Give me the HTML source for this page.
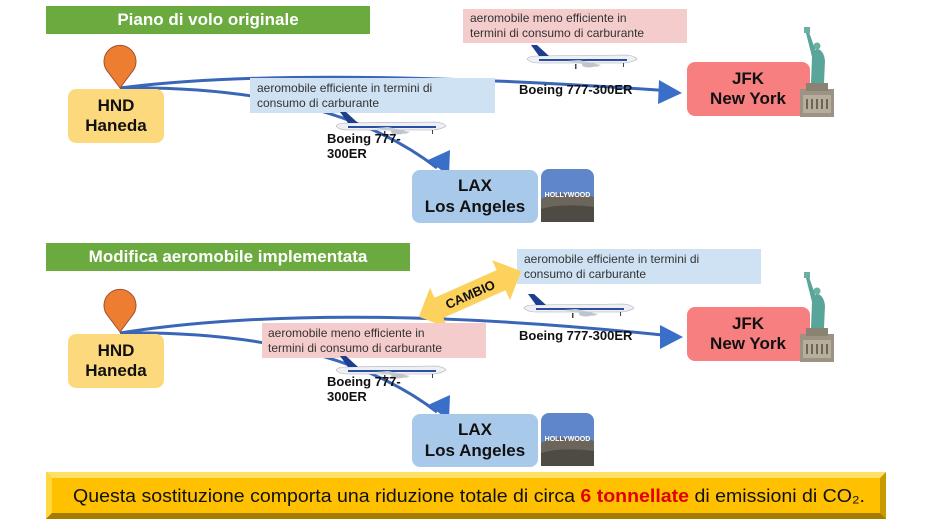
<!DOCTYPE html>
<html><head><meta charset="utf-8"><style>
html,body{margin:0;padding:0;background:#fff;width:930px;height:523px;overflow:hidden}
svg{display:block}
text{font-family:"Liberation Sans",sans-serif}
.b{font-weight:bold}
</style></head><body>
<svg width="930" height="523" viewBox="0 0 930 523" xmlns="http://www.w3.org/2000/svg">
<defs>
<g id="plane">
<path d="M0,14 Q2,11 10,11 L100,10 Q108,11 110,14 Q106,17 98,18 L12,18 Q3,18 0,14Z" fill="#eef0f3" stroke="#aab" stroke-width="0.6"/>
<path d="M4,0 L10,0 L22,11 L12,11Z" fill="#1d3f8f"/>
<rect x="12" y="14" width="88" height="2" fill="#2a4fa0"/>
<path d="M40,16 L70,22 L74,20 L52,15Z" fill="#c8ccd4"/>
<ellipse cx="62" cy="20" rx="7" ry="2.5" fill="#bfc4cc"/>
<rect x="48" y="19" width="1.5" height="5" fill="#444"/><rect x="96" y="18" width="1" height="4" fill="#444"/>
</g>
<g id="liberty">
<rect x="0" y="62" width="34" height="28" fill="#9c9384"/>
<rect x="3" y="68" width="28" height="18" fill="#b8ae9c"/>
<g fill="#6d6558"><rect x="6" y="72" width="2" height="10"/><rect x="11" y="72" width="2" height="10"/><rect x="16" y="72" width="2" height="10"/><rect x="21" y="72" width="2" height="10"/><rect x="26" y="72" width="2" height="10"/></g>
<rect x="6" y="56" width="22" height="8" fill="#8a8374"/>
<path d="M11,56 L12,30 Q14,22 18,22 Q24,24 25,34 L24,56Z" fill="#5aa59a"/>
<path d="M12,30 L6,6 L9,5 L16,25Z" fill="#5aa59a"/>
<rect x="4" y="0" width="6" height="6" fill="#6bb0a2"/>
<circle cx="17" cy="19" r="3.5" fill="#6bb0a2"/>
</g>
<g id="holly">
<rect x="0" y="0" width="53" height="53" rx="8" fill="#5f86c9"/>
<path d="M0,30 Q15,22 30,26 Q42,24 53,28 L53,45 Q53,53 45,53 L8,53 Q0,53 0,45Z" fill="#6b655c"/>
<path d="M0,40 Q20,34 53,38 L53,53 L0,53Z" fill="#4e4a44"/>
<text x="26.5" y="28" text-anchor="middle" font-size="7" font-weight="bold" fill="#fff">HOLLYWOOD</text>
</g>
<g id="pin"><path d="M0,36 L-12,20 A16,16 0 1 1 12,20 Z" fill="#ed7d31" stroke="#a0522d" stroke-width="1"/></g>
</defs>

<!-- SECTION 1 -->
<rect x="46" y="6" width="324" height="28" fill="#6aaa3e"/>
<text x="208" y="25" text-anchor="middle" class="b" font-size="17" fill="#fff">Piano di volo originale</text>

<rect x="463" y="9" width="224" height="34" fill="#f4cccc"/>
<text x="470" y="22" font-size="12" fill="#333">aeromobile meno efficiente in</text>
<text x="470" y="37" font-size="12" fill="#333">termini di consumo di carburante</text>

<path d="M120,88 Q300,65 672,91" fill="none" stroke="#3a66b8" stroke-width="3"/>
<path d="M120,88 Q330,85 437,168" fill="none" stroke="#3a66b8" stroke-width="3"/>
<path d="M659,80 L682,93 L658,104Z" fill="#3a6fc9"/>
<path d="M428,160 L450,150 L449,176 Z" fill="#3a6fc9"/>

<use href="#pin" x="120" y="52"/>
<rect x="68" y="89" width="96" height="54" rx="8" fill="#fdd97e"/>
<text x="116" y="111" text-anchor="middle" class="b" font-size="17" fill="#111">HND</text>
<text x="116" y="131" text-anchor="middle" class="b" font-size="17" fill="#111">Haneda</text>

<rect x="250" y="78" width="245" height="35" fill="#cfe2f3"/>
<text x="257" y="92" font-size="12" fill="#333">aeromobile efficiente in termini di</text>
<text x="257" y="107" font-size="12" fill="#333">consumo di carburante</text>

<use href="#plane" x="336" y="112"/>
<text x="327" y="143" class="b" font-size="13" fill="#111">Boeing 777-</text>
<text x="327" y="158" class="b" font-size="13" fill="#111">300ER</text>

<use href="#plane" x="527" y="45"/>
<text x="519" y="94" class="b" font-size="13" fill="#111">Boeing 777-300ER</text>

<rect x="687" y="62" width="123" height="54" rx="8" fill="#f77f7f"/>
<text x="748" y="84" text-anchor="middle" class="b" font-size="17" fill="#111">JFK</text>
<text x="748" y="104" text-anchor="middle" class="b" font-size="17" fill="#111">New York</text>
<use href="#liberty" x="800" y="27"/>

<rect x="412" y="170" width="126" height="53" rx="8" fill="#a9c9ea"/>
<text x="475" y="191" text-anchor="middle" class="b" font-size="17" fill="#111">LAX</text>
<text x="475" y="212" text-anchor="middle" class="b" font-size="17" fill="#111">Los Angeles</text>
<use href="#holly" x="541" y="169"/>

<!-- SECTION 2 -->
<rect x="46" y="243" width="364" height="28" fill="#6aaa3e"/>
<text x="228" y="262" text-anchor="middle" class="b" font-size="17" fill="#fff">Modifica aeromobile implementata</text>

<rect x="517" y="249" width="244" height="35" fill="#cfe2f3"/>
<text x="524" y="263" font-size="12" fill="#333">aeromobile efficiente in termini di</text>
<text x="524" y="278" font-size="12" fill="#333">consumo di carburante</text>

<path d="M120,333 Q330,300 672,336" fill="none" stroke="#3a66b8" stroke-width="3"/>
<path d="M120,333 Q330,330 437,412" fill="none" stroke="#3a66b8" stroke-width="3"/>
<path d="M660,325 L683,337 L660,349Z" fill="#3a6fc9"/>
<path d="M428,405 L450,395 L449,420 Z" fill="#3a6fc9"/>

<g transform="translate(470,294) rotate(-24)">
<path d="M-56,0 L-34,-22 L-34,-11 L34,-11 L34,-22 L56,0 L34,22 L34,11 L-34,11 L-34,22Z" fill="#fcd25d"/>
<text x="0" y="5" text-anchor="middle" class="b" font-size="13" fill="#111">CAMBIO</text>
</g>

<use href="#pin" x="120" y="296"/>
<rect x="68" y="334" width="96" height="54" rx="8" fill="#fdd97e"/>
<text x="116" y="356" text-anchor="middle" class="b" font-size="17" fill="#111">HND</text>
<text x="116" y="376" text-anchor="middle" class="b" font-size="17" fill="#111">Haneda</text>

<rect x="262" y="323" width="224" height="35" fill="#f4cccc"/>
<text x="268" y="337" font-size="12" fill="#333">aeromobile meno efficiente in</text>
<text x="268" y="352" font-size="12" fill="#333">termini di consumo di carburante</text>

<use href="#plane" x="336" y="356"/>
<text x="327" y="386" class="b" font-size="13" fill="#111">Boeing 777-</text>
<text x="327" y="401" class="b" font-size="13" fill="#111">300ER</text>

<use href="#plane" x="524" y="294"/>
<text x="519" y="340" class="b" font-size="13" fill="#111">Boeing 777-300ER</text>

<rect x="687" y="307" width="123" height="54" rx="8" fill="#f77f7f"/>
<text x="748" y="329" text-anchor="middle" class="b" font-size="17" fill="#111">JFK</text>
<text x="748" y="349" text-anchor="middle" class="b" font-size="17" fill="#111">New York</text>
<use href="#liberty" x="800" y="272"/>

<rect x="412" y="414" width="126" height="53" rx="8" fill="#a9c9ea"/>
<text x="475" y="435" text-anchor="middle" class="b" font-size="17" fill="#111">LAX</text>
<text x="475" y="456" text-anchor="middle" class="b" font-size="17" fill="#111">Los Angeles</text>
<use href="#holly" x="541" y="413"/>

<!-- bottom bar -->
<rect x="46" y="472" width="840" height="47" fill="#c89a00"/>
<path d="M46,472 L886,472 L880,478 L52,478Z" fill="#ffe066"/>
<path d="M46,472 L52,478 L52,513 L46,519Z" fill="#ffd740"/>
<path d="M46,519 L52,513 L880,513 L886,519Z" fill="#a67c00"/>
<rect x="52" y="478" width="828" height="35" fill="#ffc000"/>
<text x="73" y="502" font-size="18.5" fill="#111" textLength="792" lengthAdjust="spacingAndGlyphs">Questa sostituzione comporta una riduzione totale di circa <tspan font-weight="bold" fill="#e00000">6 tonnellate</tspan> di emissioni di CO₂.</text>
</svg>
</body></html>
